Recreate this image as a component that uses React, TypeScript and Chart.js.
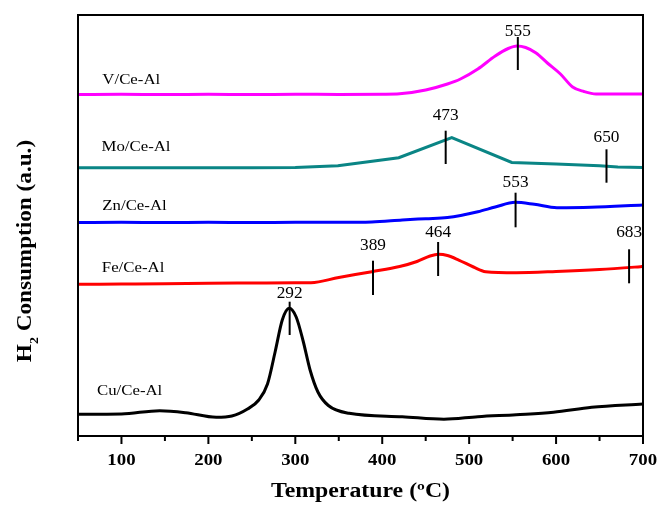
import React, { useEffect, useRef } from 'react';
import { Chart, registerables } from 'chart.js';

Chart.register(...registerables);

// ---------- data ----------
const xMajorTicks = [100, 200, 300, 400, 500, 600, 700];
const xMinorTicks = [50, 150, 250, 350, 450, 550, 650];

const vTemp = [50, 100, 150, 200, 250, 300, 350, 400, 420, 450, 475, 490, 510, 530, 545, 555, 565, 577, 590, 605, 619, 632, 646, 670, 700];
const vValue = [341.5, 341.7, 341.5, 341.7, 341.5, 341.7, 341.6, 341.8, 342.2, 346, 352, 357, 367, 380, 387.5, 390, 388.5, 383, 373, 362, 349, 344.5, 342, 342, 342];

const moTemp = [50, 150, 250, 300, 349, 419, 480, 549, 600, 650, 671, 700];
const moValue = [268.3, 268.3, 268.3, 268.4, 270.3, 278.3, 298.3, 273.5, 272, 270.3, 269, 268.5];

const znTemp = [50, 100, 150, 200, 250, 300, 350, 388, 423, 450, 475, 510, 530, 553, 575, 601, 640, 700];
const znValue = [213.5, 213.7, 213.5, 213.7, 213.5, 213.7, 213.7, 214, 216, 217.3, 218.5, 224.3, 229, 233.7, 231.7, 228.3, 228.7, 231];

const feTemp = [50, 100, 150, 200, 250, 300, 318, 350, 388, 420, 440, 455, 465, 475, 488, 505, 519, 554, 600, 650, 697, 700];
const feValue = [151.7, 152, 152.3, 152.7, 153, 153.3, 153.3, 158.5, 164.3, 169.5, 174.5, 180, 181.7, 180.5, 176, 169, 164.3, 163.3, 164.5, 166.5, 169.3, 169.5];

const cuTemp = [50, 100, 144, 174, 209, 227, 245, 258, 268, 277, 285, 293, 301, 309, 317, 326, 338, 362, 423, 471, 510, 554, 597, 641, 700];
const cuValue = [21.7, 22, 25.3, 23.3, 18.7, 20, 27, 36, 52, 85, 116, 127.7, 119, 95, 66, 44, 30.5, 22.7, 19.3, 16.7, 19.3, 21.3, 23.7, 28.7, 32];

const seriesNames = ['V/Ce-Al', 'Mo/Ce-Al', 'Zn/Ce-Al', 'Fe/Ce-Al', 'Cu/Ce-Al'];
const seriesColors = ['#FF00FF', '#0A8585', '#0000FF', '#FF0000', '#000000'];
const seriesTension = [0.4, 0, 0.4, 0.4, 0.4];
const seriesLabelTemp = [78, 77, 78, 77.4, 71.8];
const seriesLabelValue = [352, 285.3, 226, 164.3, 41];

const markerTemp = [556, 473, 658, 553.4, 389.4, 464.3, 684, 293.5];
const markerText = ['555', '473', '650', '553', '389', '464', '683', '292'];
const markerTop = [399, 305.3, 286.7, 243.3, 175.3, 194, 186.7, 134.3];
const markerBottom = [366, 272, 253.3, 208.7, 141, 160, 152.7, 101];
const markerLabelValue = [400, 316, 294.3, 249.3, 186, 199.3, 198.7, 137.7];

const xTitle = 'Temperature (\u00BAC)';
const yTitleMain = 'H';
const yTitleSub = '2';
const yTitleRest = ' Consumption (a.u.)';

// ---------- helpers ----------
const SERIF = "'Liberation Serif', 'Times New Roman', serif";

function drawText(
  ctx: CanvasRenderingContext2D,
  text: string,
  x: number,
  y: number,
  font: string,
  align: CanvasTextAlign,
  sx: number
) {
  ctx.save();
  ctx.translate(x, y);
  ctx.scale(sx, 1);
  ctx.font = font;
  ctx.textAlign = align;
  ctx.textBaseline = 'alphabetic';
  ctx.fillStyle = '#000';
  ctx.fillText(text, 0, 0);
  ctx.restore();
}

const decorPlugin = {
  id: 'decor',
  afterDatasetsDraw(chart: any) {
    const ctx: CanvasRenderingContext2D = chart.ctx;
    const { left, right, top, bottom } = chart.chartArea;
    const xs = chart.scales.x;
    const ys = chart.scales.y;

    ctx.save();
    // markers
    ctx.strokeStyle = '#000';
    ctx.lineWidth = 2;
    markerTemp.forEach((t, i) => {
      const px = xs.getPixelForValue(t);
      ctx.beginPath();
      ctx.moveTo(px, ys.getPixelForValue(markerTop[i]));
      ctx.lineTo(px, ys.getPixelForValue(markerBottom[i]));
      ctx.stroke();
      drawText(ctx, markerText[i], px, ys.getPixelForValue(markerLabelValue[i]), `16px ${SERIF}`, 'center', 1.08);
    });

    // series labels
    seriesNames.forEach((name, i) => {
      drawText(
        ctx,
        name,
        xs.getPixelForValue(seriesLabelTemp[i]),
        ys.getPixelForValue(seriesLabelValue[i]),
        `15px ${SERIF}`,
        'left',
        1.12
      );
    });

    // frame
    ctx.lineWidth = 2;
    ctx.strokeStyle = '#000';
    ctx.strokeRect(left, top, right - left, bottom - top);

    // ticks
    ctx.lineWidth = 2;
    xMajorTicks.forEach((t) => {
      const px = xs.getPixelForValue(t);
      ctx.beginPath();
      ctx.moveTo(px, bottom);
      ctx.lineTo(px, bottom + 8);
      ctx.stroke();
      drawText(ctx, String(t), px, bottom + 28.5, `bold 16px ${SERIF}`, 'center', 1.18);
    });
    xMinorTicks.forEach((t) => {
      const px = xs.getPixelForValue(t);
      ctx.beginPath();
      ctx.moveTo(px, bottom);
      ctx.lineTo(px, bottom + 5);
      ctx.stroke();
    });

    // x title
    drawText(ctx, xTitle, (left + right) / 2, bottom + 61, `bold 20px ${SERIF}`, 'center', 1.19);

    // y title (rotated, with subscript)
    ctx.save();
    ctx.translate(31, 251);
    ctx.rotate(-Math.PI / 2);
    ctx.scale(1.16, 1);
    ctx.fillStyle = '#000';
    ctx.textBaseline = 'alphabetic';
    ctx.textAlign = 'left';
    const mainFont = `bold 20px ${SERIF}`;
    const subFont = `bold 12px ${SERIF}`;
    ctx.font = mainFont;
    const w1 = ctx.measureText(yTitleMain).width;
    const w3 = ctx.measureText(yTitleRest).width;
    ctx.font = subFont;
    const w2 = ctx.measureText(yTitleSub).width;
    const start = -(w1 + w2 + w3) / 2;
    ctx.font = mainFont;
    ctx.fillText(yTitleMain, start, 0);
    ctx.font = subFont;
    ctx.fillText(yTitleSub, start + w1, 7);
    ctx.font = mainFont;
    ctx.fillText(yTitleRest, start + w1 + w2, 0);
    ctx.restore();

    ctx.restore();
  },
};

export default function App() {
  const canvasRef = useRef<HTMLCanvasElement | null>(null);

  useEffect(() => {
    if (!canvasRef.current) return;
    const temps = [vTemp, moTemp, znTemp, feTemp, cuTemp];
    const values = [vValue, moValue, znValue, feValue, cuValue];
    const datasets = seriesNames.map((name, i) => ({
      label: name,
      data: temps[i].map((t, j) => ({ x: t, y: values[i][j] })),
      borderColor: seriesColors[i],
      backgroundColor: seriesColors[i],
      borderWidth: 3,
      pointRadius: 0,
      tension: seriesTension[i],
      cubicInterpolationMode: seriesTension[i] > 0 ? ('monotone' as const) : ('default' as const),
      fill: false,
    }));

    const chart = new Chart(canvasRef.current, {
      type: 'line',
      data: { datasets },
      options: {
        animation: false,
        responsive: false,
        maintainAspectRatio: false,
        layout: { padding: { left: 78, right: 14, top: 15, bottom: 69 } },
        plugins: {
          legend: { display: false },
          tooltip: { enabled: false },
        },
        scales: {
          x: { type: 'linear', min: 50, max: 700, display: false },
          y: { type: 'linear', min: 0, max: 421, display: false },
        },
      },
      plugins: [decorPlugin],
    });
    return () => chart.destroy();
  }, []);

  return (
    <div style={{ position: 'fixed', left: 0, top: 0, width: 657, height: 505, background: '#fff' }}>
      <canvas ref={canvasRef} width={657} height={505} />
    </div>
  );
}
